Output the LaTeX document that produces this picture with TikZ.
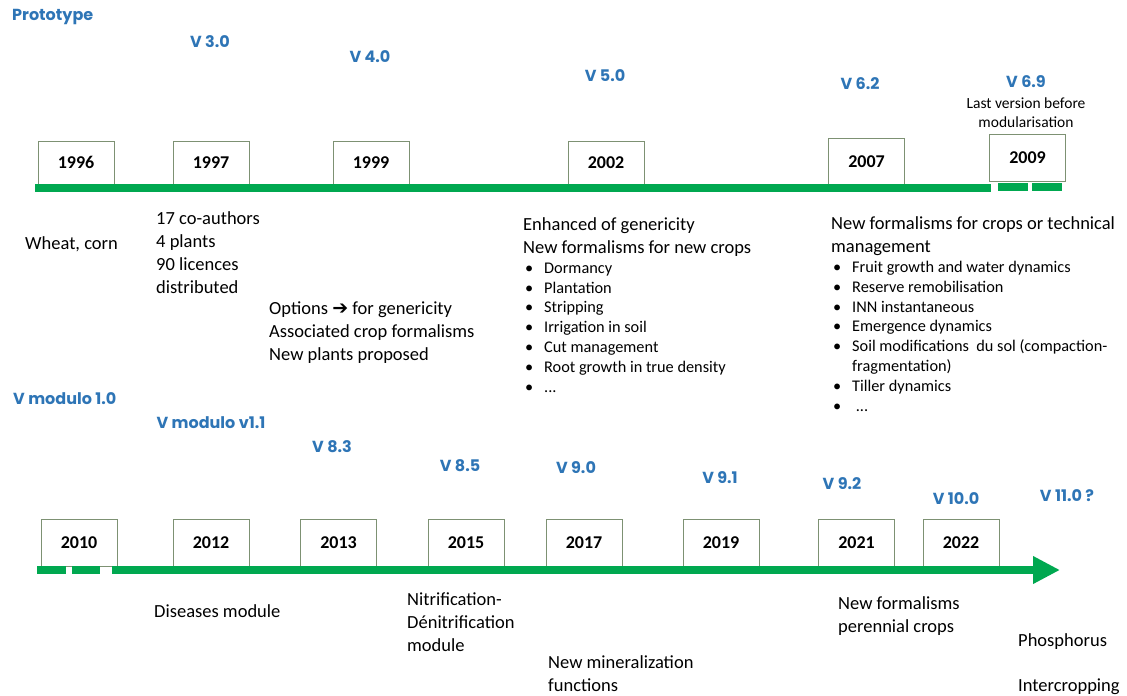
\documentclass[tikz,border=0pt]{standalone}
\usepackage{fontspec}
\setmainfont{Carlito}
\newfontfamily\verfont{Poppins}
\newfontfamily\symfont{DejaVu Sans}
\usetikzlibrary{arrows.meta}
\definecolor{verblue}{RGB}{46,117,182}
\definecolor{bargreen}{RGB}{0,168,80}
\definecolor{boxline}{RGB}{125,145,115}
\begin{document}
\begin{tikzpicture}[x=1pt,y=-1pt,
    yearbox/.style={draw=boxline,thin,fill=white,minimum width=76pt,minimum height=44pt,inner sep=0pt,anchor=south,font=\fontsize{18}{20}\selectfont\bfseries},
    verlabel/.style={text=verblue,inner sep=0pt,font=\verfont\bfseries\fontsize{16}{18}\selectfont},
    body/.style={anchor=base west,align=left,inner sep=0pt,font=\fontsize{18.5}{23}\selectfont},
    bullets/.style={anchor=base west,align=left,inner sep=0pt,font=\fontsize{16.3}{19.8}\selectfont},
    small/.style={align=center,inner sep=0pt,font=\fontsize{15.5}{19}\selectfont},
    bar/.style={draw=bargreen,line width=8pt}]
\useasboundingbox (0,0) rectangle (1127,696);
\newcommand{\bul}{\makebox[19pt][l]{•}}
% multi-line nodes sit on the baseline of their last line

% --- prototype line
\node[verlabel,anchor=west] (proto) at (12,17) {Prototype};
\node[verlabel] (v30) at (210,42) {V 3.0};
\node[verlabel] (v40) at (370,57) {V 4.0};
\node[verlabel] (v50) at (605,76) {V 5.0};
\node[verlabel] (v62) at (860,84) {V 6.2};
\node[verlabel] (v69) at (1026,82) {V 6.9};
\node[small] (last) at (1026,113) {Last version before\\modularisation};

\node[yearbox] (y1996) at (76,185) {1996};
\node[yearbox] (y1997) at (211,185) {1997};
\node[yearbox] (y1999) at (371,185) {1999};
\node[yearbox] (y2002) at (606,185) {2002};
\node[yearbox,minimum height=47pt] (y2007) at (866.5,185) {2007};
\node[yearbox,minimum height=47pt] (y2009) at (1027.5,181) {2009};

\coordinate (ta) at (35,188);
\coordinate (tb) at (991,188);
\coordinate (tc) at (998,187);
\coordinate (td) at (1028,187);
\coordinate (te) at (1032,187);
\coordinate (tf) at (1062,187);
\draw[bar] (ta) -- (tb);
\draw[bar] (tc) -- (td);
\draw[bar] (te) -- (tf);

\node[body] (wheat) at (25,249) {Wheat, corn};
\node[body] (coauth) at (156,293) {17 co-authors\\4 plants\\90 licences\\distributed};
\node[body] (options) at (269,360) {Options {\symfont\fontsize{19}{16}\selectfont ➔} for genericity\\Associated crop formalisms\\New plants proposed};
\node[body] (enh) at (523,253) {Enhanced of genericity\\New formalisms for new crops};
\node[bullets] (list1) at (525,392) {\bul Dormancy\\\bul Plantation\\\bul Stripping\\\bul Irrigation in soil\\\bul Cut management\\\bul Root growth in true density\\\bul ...};
\node[body] (newf) at (831,252) {New formalisms for crops or technical\\management};
\node[bullets] (list2) at (833,411) {\bul Fruit growth and water dynamics\\\bul Reserve remobilisation\\\bul INN instantaneous\\\bul Emergence dynamics\\\bul Soil modifications\ \ du sol (compaction-\\\hspace*{19pt}fragmentation)\\\bul Tiller dynamics\\\bul\ ...};

% --- modular line
\node[verlabel,anchor=west] (vm10) at (13,399) {V modulo 1.0};
\node[verlabel] (vm11) at (211,423) {V modulo v1.1};
\node[verlabel] (v83) at (332,447) {V 8.3};
\node[verlabel] (v85) at (460,466) {V 8.5};
\node[verlabel] (v90) at (576,468) {V 9.0};
\node[verlabel] (v91) at (720,478) {V 9.1};
\node[verlabel] (v92) at (842,484) {V 9.2};
\node[verlabel] (v100) at (956,499) {V 10.0};
\node[verlabel] (v110) at (1067,496) {V 11.0 ?};

\node[yearbox,minimum height=47pt] (y2010) at (79,566) {2010};
\node[yearbox,minimum height=47pt] (y2012) at (211,566) {2012};
\node[yearbox,minimum height=47pt] (y2013) at (338.5,566) {2013};
\node[yearbox,minimum height=47pt] (y2015) at (466,566) {2015};
\node[yearbox,minimum height=47pt] (y2017) at (584,566) {2017};
\node[yearbox,minimum height=47pt] (y2019) at (721,566) {2019};
\node[yearbox,minimum height=47pt] (y2021) at (856.5,566) {2021};
\node[yearbox,minimum height=47pt] (y2022) at (961,566) {2022};

\coordinate (ba) at (37,570);
\coordinate (bb) at (66,570);
\coordinate (bc) at (72,570);
\coordinate (bd) at (100,570);
\coordinate (be) at (112,570);
\coordinate (bz) at (1060,570);
\draw[bar] (ba) -- (bb);
\draw[bar] (bc) -- (bd);
\draw[bar,-{Triangle[length=27pt,width=26pt]}] (be) -- (bz);

\node[body] (dis) at (154,617) {Diseases module};
\node[body] (nitri) at (407,651) {Nitrification-\\Dénitrification\\module};
\node[body] (miner) at (548,691) {New mineralization\\functions};
\node[body] (peren) at (838,632) {New formalisms\\perennial crops};
\node[body] (phos) at (1018,646) {Phosphorus};
\node[body] (inter) at (1018,691) {Intercropping};
\end{tikzpicture}
\end{document}
